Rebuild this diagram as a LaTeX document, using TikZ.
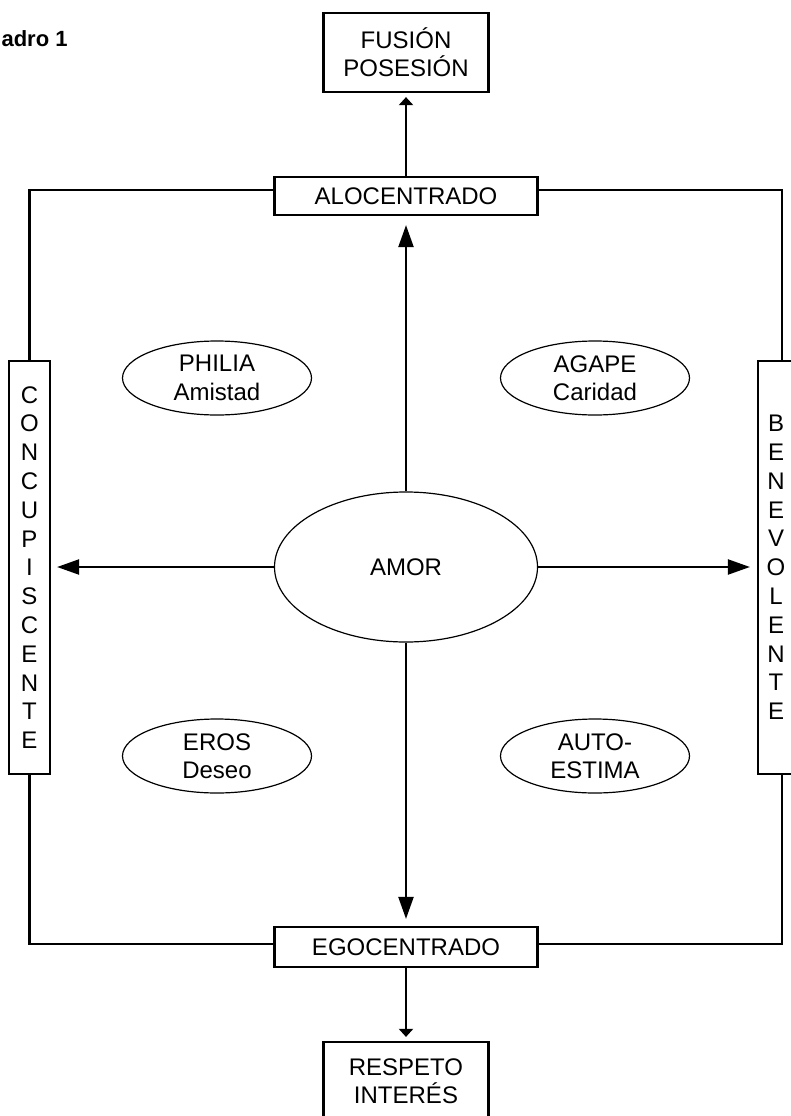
\documentclass[tikz,border=0pt]{standalone}
\usepackage{fontspec}
\setmainfont{Liberation Sans}
\usetikzlibrary{arrows.meta,shapes.geometric}

\begin{document}
\begin{tikzpicture}[x=1pt,y=-1pt,
  caja/.style={draw,line width=2.2pt,inner sep=0pt,align=center,font=\fontsize{24}{28.3}\selectfont},
  vert/.style={caja,font=\fontsize{24}{28.8}\selectfont,minimum height=413pt},
  elipse/.style={draw,ellipse,line width=1.2pt,inner sep=0pt,align=center,minimum width=189pt,minimum height=74pt,font=\fontsize{24}{28.3}\selectfont},
  linea/.style={line width=2.2pt},
  flecha/.style={line width=2.2pt,-{Triangle[length=22pt,width=15pt]}},
  flechita/.style={line width=2.2pt,-{Triangle[length=8pt,width=14pt]}}]
\useasboundingbox (0,0) rectangle (791,1116);
\clip (0,0) rectangle (791,1116);
%\draw[help lines,step=50] (0,0) grid (791,1116);
\node[anchor=base west,font=\fontsize{22}{26}\selectfont\bfseries] (titulo) at (-2,46.7) {adro 1};
\node[caja,minimum width=165pt,minimum height=79pt] (fusion) at (406,52.5) {FUSIÓN\\POSESIÓN};
\node[caja,minimum width=263pt,minimum height=38pt] (alo) at (406,196) {ALOCENTRADO};
\node[caja,minimum width=263pt,minimum height=40pt] (ego) at (406,947) {EGOCENTRADO};
\node[caja,minimum width=165pt,minimum height=79pt] (respeto) at (406,1081.5) {RESPETO\\INTERÉS};
\node[vert,minimum width=41pt] (conc) at (29.5,567.5) {C\\O\\N\\C\\U\\P\\I\\S\\C\\E\\N\\T\\E};
\node[vert,minimum width=36pt] (bene) at (776,567.5) {B\\E\\N\\E\\V\\O\\L\\E\\N\\T\\E};
\node[elipse,minimum width=263pt,minimum height=150pt] (amor) at (406,567) {AMOR};
\node[elipse] (philia) at (217,378) {PHILIA\\Amistad};
\node[elipse] (agape) at (595,378) {AGAPE\\Caridad};
\node[elipse] (eros) at (217,756) {EROS\\Deseo};
\node[elipse] (auto) at (595,756) {AUTO-\\ESTIMA};
\coordinate (nw) at (29.5,190);
\coordinate (ne) at (782,190);
\coordinate (sw) at (29.5,944);
\coordinate (se) at (782,944);
% marco
\draw[linea] (alo.west |- nw) -- (nw) -- (conc.north);
\draw[linea] (alo.east |- ne) -- (ne) -- (ne |- bene.north);
\draw[linea] (ego.west |- sw) -- (sw) -- (conc.south);
\draw[linea] (ego.east |- se) -- (se) -- (se |- bene.south);
% flechas
\draw[flecha,shorten >=9pt] (amor) -- (alo);
\draw[flecha,shorten >=7pt] (amor) -- (ego);
\draw[flecha,shorten >=6pt] (amor.west) -- (conc.east |- amor.west);
\draw[flecha,shorten >=7pt] (amor.east) -- (bene.west |- amor.east);
\draw[flechita,shorten >=4pt] (alo) -- (fusion);
\draw[flechita,shorten >=4pt] (ego) -- (respeto);
\end{tikzpicture}
\end{document}
